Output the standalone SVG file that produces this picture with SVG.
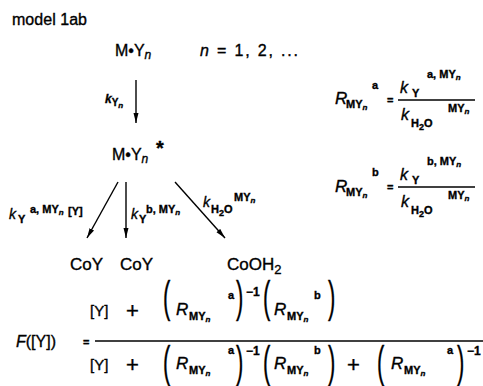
<svg xmlns="http://www.w3.org/2000/svg" width="483" height="386" viewBox="0 0 483 386">
<style>
text{font-family:"Liberation Sans",Arial,sans-serif;fill:#000;stroke:#000;stroke-width:0.35}
.t{font-size:16px}
.it{font-style:italic}
.b{font-weight:bold;font-style:normal}
.s9{font-size:10px}
.s11{font-size:11px}
.n7{font-size:8px;font-weight:bold;font-style:italic}
.par{font-size:22px;stroke-width:0.2}
.ln{stroke:#000;stroke-width:1.4;fill:none}
.fl{stroke:#000;stroke-width:1.6}
</style>
<defs>
<marker id="ah" viewBox="0 0 10 6" refX="10" refY="3" markerWidth="10" markerHeight="6" markerUnits="userSpaceOnUse" orient="auto">
<path d="M0,0.5 L10,3 L0,5.5 Z" fill="#000"/>
</marker>
</defs>
<rect width="483" height="386" fill="#fff"/>
<text x="12" y="25" class="t" textLength="75">model 1ab</text>
<g id="node-MYn"><text x="115" y="56" class="t">M•Y<tspan class="it" font-size="12" dy="3">n</tspan></text></g>
<text x="200" y="56" class="t" textLength="98"><tspan class="it">n</tspan> = 1, 2, ...</text>
<g id="node-MYnstar"><text x="112" y="160" class="t">M•Y<tspan class="it" font-size="12" dy="3">n</tspan><tspan x="156" y="155" font-size="20" font-weight="bold">*</tspan></text></g>
<g id="node-CoY1"><text x="70" y="270" font-size="17">CoY</text></g>
<g id="node-CoY2"><text x="120" y="270" font-size="17">CoY</text></g>
<g id="node-CoOH2"><text x="227" y="270" font-size="17">CoOH<tspan font-size="13" dy="4">2</tspan></text></g>
<g id="connectors">
<line class="ln" x1="136" y1="80" x2="136" y2="123" marker-end="url(#ah)"/>
<line class="ln" x1="118" y1="182" x2="87" y2="238" marker-end="url(#ah)"/>
<line class="ln" x1="126" y1="182" x2="126" y2="238" marker-end="url(#ah)"/>
<line class="ln" x1="175" y1="182" x2="225" y2="238" marker-end="url(#ah)"/>
</g>
<g id="labels">
<text x="105" y="103" font-size="12" class="it" font-weight="bold">k<tspan class="b s9" dy="3">Y</tspan><tspan class="n7" dy="2">n</tspan></text>
<text x="9" y="219" font-size="14" class="it">k<tspan class="b s11" x="18" y="223">Y</tspan><tspan class="b s11" x="30" y="213">a, MY</tspan><tspan class="n7" dy="2">n</tspan><tspan class="b s11" x="68" y="215">[Y]</tspan></text>
<text x="131" y="219" font-size="14" class="it">k<tspan class="b s11" x="139" y="223">Y</tspan><tspan class="b s11" x="146" y="213">b, MY</tspan><tspan class="n7" dy="2">n</tspan></text>
<text x="203" y="207" font-size="14" class="it">k<tspan class="b s11" x="211" y="213">H</tspan><tspan class="b" font-size="9" dy="3">2</tspan><tspan class="b s11" dy="-3">O</tspan><tspan class="b s11" x="234" y="201">MY</tspan><tspan class="n7" dy="2">n</tspan></text>
</g>
<g id="eq-Ra">
<text x="335" y="104" font-size="17" class="it">R<tspan class="b s11" x="346" y="108">MY</tspan><tspan class="n7" dy="2">n</tspan><tspan class="b s11" x="372" y="89">a</tspan></text>
<text x="387" y="104" font-size="11" font-weight="bold">=</text>
<line class="fl" x1="398" y1="100" x2="475" y2="100"/>
<text x="400" y="93" font-size="16" class="it">k<tspan class="b s11" x="412" y="97">Y</tspan><tspan class="b s11" x="427" y="78">a, MY</tspan><tspan class="n7" dy="2">n</tspan></text>
<text x="401" y="120" font-size="16" class="it">k<tspan class="b s11" x="411" y="127">H</tspan><tspan class="b" font-size="9" dy="3">2</tspan><tspan class="b s11" dy="-3">O</tspan><tspan class="b s11" x="448" y="112">MY</tspan><tspan class="n7" dy="2">n</tspan></text>
</g>
<g id="eq-Rb">
<text x="335" y="192" font-size="17" class="it">R<tspan class="b s11" x="346" y="196">MY</tspan><tspan class="n7" dy="2">n</tspan><tspan class="b s11" x="372" y="176">b</tspan></text>
<text x="387" y="191" font-size="11" font-weight="bold">=</text>
<line class="fl" x1="398" y1="187" x2="475" y2="187"/>
<text x="400" y="180" font-size="16" class="it">k<tspan class="b s11" x="412" y="184">Y</tspan><tspan class="b s11" x="427" y="165">b, MY</tspan><tspan class="n7" dy="2">n</tspan></text>
<text x="401" y="207" font-size="16" class="it">k<tspan class="b s11" x="411" y="214">H</tspan><tspan class="b" font-size="9" dy="3">2</tspan><tspan class="b s11" dy="-3">O</tspan><tspan class="b s11" x="448" y="199">MY</tspan><tspan class="n7" dy="2">n</tspan></text>
</g>
<g id="eq-F">
<text x="16" y="347" font-size="16"><tspan class="it">F</tspan>([Y])</text>
<text x="83" y="346" font-size="11" font-weight="bold">=</text>
<line class="fl" x1="95" y1="341" x2="483" y2="341"/>
<text x="90" y="316" font-size="15">[Y]</text>
<text x="126" y="318" font-size="22">+</text>
<text transform="translate(163,312) scale(1,2)" class="par">(</text>
<text x="176" y="315" font-size="17" class="it">R<tspan class="b s11" x="189" y="320">MY</tspan><tspan class="n7" dy="2">n</tspan><tspan class="b s11" x="228" y="299">a</tspan></text>
<text transform="translate(236,312) scale(1,2)" class="par">)</text>
<text x="246" y="296" font-size="12" font-weight="bold">−1</text>
<text transform="translate(263,312) scale(1,2)" class="par">(</text>
<text x="274" y="315" font-size="17" class="it">R<tspan class="b s11" x="287" y="320">MY</tspan><tspan class="n7" dy="2">n</tspan><tspan class="b s11" x="314" y="299">b</tspan></text>
<text transform="translate(328,312) scale(1,2)" class="par">)</text>
<text x="90" y="370" font-size="15">[Y]</text>
<text x="126" y="372" font-size="22">+</text>
<text transform="translate(163,377) scale(1,2)" class="par">(</text>
<text x="176" y="369" font-size="17" class="it">R<tspan class="b s11" x="189" y="374">MY</tspan><tspan class="n7" dy="2">n</tspan><tspan class="b s11" x="228" y="354">a</tspan></text>
<text transform="translate(236,377) scale(1,2)" class="par">)</text>
<text x="246" y="355" font-size="12" font-weight="bold">−1</text>
<text transform="translate(263,377) scale(1,2)" class="par">(</text>
<text x="274" y="369" font-size="17" class="it">R<tspan class="b s11" x="287" y="374">MY</tspan><tspan class="n7" dy="2">n</tspan><tspan class="b s11" x="314" y="354">b</tspan></text>
<text transform="translate(328,377) scale(1,2)" class="par">)</text>
<text x="347" y="372" font-size="22">+</text>
<text transform="translate(377,377) scale(1,2)" class="par">(</text>
<text x="391" y="369" font-size="17" class="it">R<tspan class="b s11" x="404" y="374">MY</tspan><tspan class="n7" dy="2">n</tspan><tspan class="b s11" x="447" y="354">a</tspan></text>
<text transform="translate(457,377) scale(1,2)" class="par">)</text>
<text x="467" y="355" font-size="12" font-weight="bold">−1</text>
</g>
</svg>
